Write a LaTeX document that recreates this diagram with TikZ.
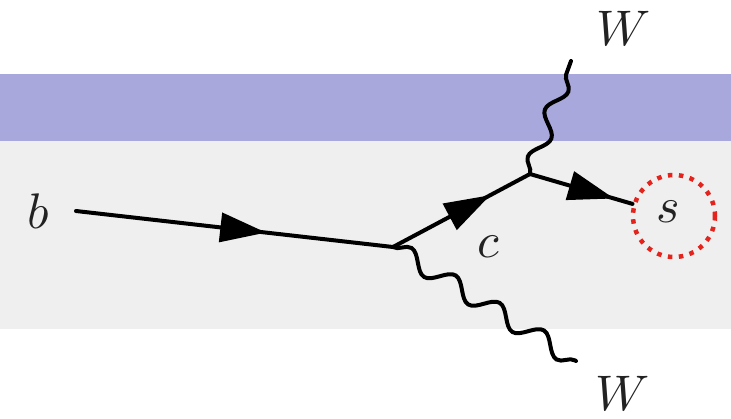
\documentclass[tikz,border=0pt]{standalone}
\usetikzlibrary{arrows.meta,decorations.pathmorphing,decorations.markings}
\definecolor{bandblue}{RGB}{168,168,220}
\definecolor{bandgray}{RGB}{239,239,239}
\definecolor{dotred}{RGB}{228,36,28}
\definecolor{inkgray}{RGB}{34,34,34}
\tikzset{
  fermion/.style={line width=4pt, line cap=round, black},
  arrowat/.style={postaction={decorate}, decoration={markings,
      mark=at position #1 with {\arrow{Triangle[length=46pt,width=29pt]}}}},
  boson/.style={line width=4pt, line cap=round, black,
      decorate, decoration={snake, amplitude=9pt, segment length=52pt}},
  lbl/.style={text=inkgray, scale=5, inner sep=0pt},
  halo/.style={circle, draw=dotred, line width=4.5pt,
      dash pattern=on 4.5pt off 6.5pt, minimum size=82pt, inner sep=0pt}
}
\begin{document}
\begin{tikzpicture}[x=1pt,y=-1pt]
  \useasboundingbox (0,0) rectangle (731,418);
  % background bands
  \fill[bandgray] (0,141) rectangle (731,329);
  \fill[bandblue] (0,74) rectangle (731,141);

  % vertices and free ends
  \coordinate (bin) at (76,211);
  \coordinate (v1) at (393,247);
  \coordinate (v2) at (530,174);
  \coordinate (wtopend) at (571,61);
  \coordinate (wbotend) at (576,361);

  % labels
  \node[lbl] (b) at (38,211) {$b$};
  \node[lbl] (c) at (488,247) {$c$};
  \node[lbl] (wtop) at (624,28) {$W$};
  \node[lbl] (wbot) at (623,393) {$W$};
  \node[halo] (s) at (674,216) {};
  \node[lbl] (slbl) at (668,212) {$s$};

  % W bosons
  \draw[boson] (v1) -- (wbotend);
  \draw[boson, decoration={snake, amplitude=8pt, segment length=50pt}] (v2) -- (wtopend);

  % quark lines
  \draw[fermion, arrowat=0.6] (bin) -- (v1);
  \draw[fermion, arrowat=0.71] (v1) -- (v2);
  \draw[fermion, arrowat=0.82] (v2) -- (s);
\end{tikzpicture}
\end{document}
